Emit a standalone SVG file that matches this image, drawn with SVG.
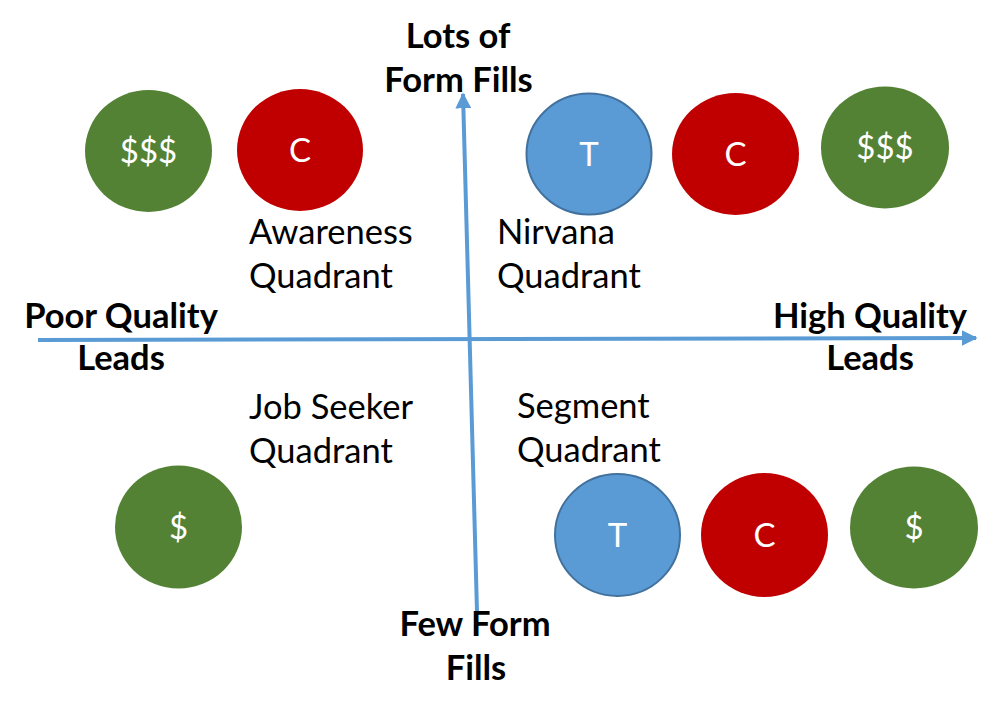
<svg xmlns="http://www.w3.org/2000/svg" width="998" height="715" viewBox="0 0 998 715">
<style>
.t{font-family:Lato,"Liberation Sans",sans-serif;font-size:34.5px;fill:#000}
.b{font-family:Lato,"Liberation Sans",sans-serif;font-size:34.5px;font-weight:bold;fill:#000;text-anchor:middle}
.c{font-family:Lato,"Liberation Sans",sans-serif;font-size:33px;fill:#fff;text-anchor:middle}
.g{fill:#548235}
.r{fill:#C00000}
.bl{fill:#5B9BD5;stroke:#41719C;stroke-width:2}
.ax{stroke:#5B9BD5;stroke-width:4;fill:none}
</style>
<defs>
<marker id="ah" viewBox="0 0 10 10" refX="9" refY="5" markerWidth="4" markerHeight="4" orient="auto" markerUnits="strokeWidth">
<path d="M0,0 L10,5 L0,10 z" fill="#5B9BD5"/>
</marker>
</defs>
<rect width="998" height="715" fill="#fff"/>
<g id="connectors">
<line class="ax" x1="38" y1="340" x2="976" y2="338" marker-end="url(#ah)"/>
<line class="ax" x1="477" y1="612" x2="463" y2="94" marker-end="url(#ah)"/>
</g>
<g id="n-tl-money"><ellipse class="g" cx="148.5" cy="151" rx="63.5" ry="61"/><text class="c" x="148.5" y="163">$$$</text></g>
<g id="n-tl-c"><ellipse class="r" cx="300" cy="150" rx="63" ry="61"/><text class="c" x="300" y="162">C</text></g>
<g id="n-tr-t"><ellipse class="bl" cx="589" cy="154" rx="62.5" ry="60.5"/><text class="c" x="589" y="166">T</text></g>
<g id="n-tr-c"><ellipse class="r" cx="735.5" cy="154" rx="63.5" ry="61"/><text class="c" x="735.5" y="166">C</text></g>
<g id="n-tr-money"><ellipse class="g" cx="885" cy="147.5" rx="64" ry="61"/><text class="c" x="885" y="159">$$$</text></g>
<g id="n-bl-money"><ellipse class="g" cx="178.5" cy="527" rx="63.5" ry="61.5"/><text class="c" x="178.5" y="539">$</text></g>
<g id="n-br-t"><ellipse class="bl" cx="617.5" cy="535" rx="62.5" ry="61"/><text class="c" x="617.5" y="547">T</text></g>
<g id="n-br-c"><ellipse class="r" cx="764.5" cy="535" rx="63.5" ry="62"/><text class="c" x="764.5" y="547">C</text></g>
<g id="n-br-money"><ellipse class="g" cx="914" cy="527.5" rx="64" ry="61"/><text class="c" x="914" y="539">$</text></g>
<g id="labels">
<text class="t" x="249" y="244">Awareness</text>
<text class="t" x="249" y="288">Quadrant</text>
<text class="t" x="497" y="244">Nirvana</text>
<text class="t" x="497" y="288">Quadrant</text>
<text class="t" x="249" y="419">Job Seeker</text>
<text class="t" x="249" y="463">Quadrant</text>
<text class="t" x="517" y="418">Segment</text>
<text class="t" x="517" y="462">Quadrant</text>
<text class="b" x="458" y="48">Lots of</text>
<text class="b" x="458.5" y="92">Form Fills</text>
<text class="b" x="121" y="328">Poor Quality</text>
<text class="b" x="121" y="370">Leads</text>
<text class="b" x="870" y="328">High Quality</text>
<text class="b" x="870" y="370">Leads</text>
<text class="b" x="475" y="636">Few Form</text>
<text class="b" x="476" y="680">Fills</text>
</g>
</svg>
